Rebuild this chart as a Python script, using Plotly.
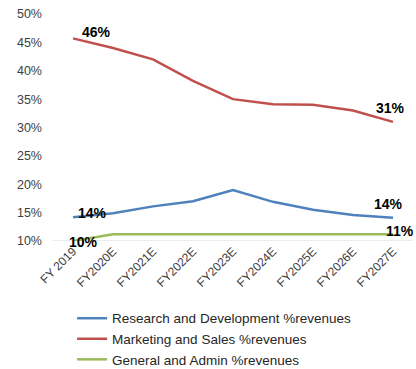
import plotly.graph_objects as go

years = ["FY 2019", "FY2020E", "FY2021E", "FY2022E", "FY2023E",
         "FY2024E", "FY2025E", "FY2026E", "FY2027E"]
rnd = [14.2, 14.9, 16.1, 17.0, 19.0, 16.9, 15.5, 14.6, 14.1]
mkt = [45.7, 44.0, 42.0, 38.2, 35.0, 34.1, 34.0, 33.0, 31.0]
gna = [10.0, 11.2, 11.2, 11.2, 11.2, 11.2, 11.2, 11.2, 11.2]

series = [
    ("Research and Development %revenues", rnd, "#4F81BD"),
    ("Marketing and Sales %revenues", mkt, "#C0504D"),
    ("General and Admin %revenues", gna, "#9BBB59"),
]

fig = go.Figure()
for name, vals, color in series:
    fig.add_trace(go.Scatter(
        x=years, y=vals, name=name, mode="lines",
        line=dict(color=color, width=2.5),
        cliponaxis=False,
    ))

# value callouts at the first and last points: (values, index, xshift, yshift)
callouts = [
    (mkt, 0, 23, 6),
    (mkt, 8, -3, 14),
    (rnd, 0, 19, 4),
    (rnd, 8, -5, 14),
    (gna, 0, 10, -1),
    (gna, 8, 7, 3),
]
for vals, i, dx, dy in callouts:
    fig.add_annotation(
        x=years[i], y=vals[i], text=f"<b>{round(vals[i])}%</b>",
        showarrow=False, xshift=dx, yshift=dy,
        font=dict(family="Liberation Sans", size=14, color="#000000"),
    )

fig.update_layout(
    width=416, height=369,
    margin=dict(l=53, r=3, t=14, b=128, autoexpand=False),
    paper_bgcolor="white", plot_bgcolor="white",
    font=dict(family="Liberation Sans", size=12, color="#404040"),
    showlegend=True,
    legend=dict(
        orientation="v", x=0.053, xanchor="left",
        yref="container", y=0.179, yanchor="top",
        font=dict(size=13.5, color="#262626"),
        tracegroupgap=0, itemwidth=30,
    ),
    xaxis=dict(
        type="category", range=[-0.5, 8.5], tickangle=-45,
        showgrid=False, showline=False, ticks="", automargin=False,
        tickfont=dict(size=12, color="#404040"),
    ),
    yaxis=dict(
        range=[10, 50], dtick=5, ticksuffix="%", automargin=False,
        showgrid=False, zeroline=False, showline=False, ticks="",
        ticklabelstandoff=10,
        tickfont=dict(size=12.5, color="#404040"),
    ),
)
fig.add_hline(y=10, line=dict(color="#D9D9D9", width=1), layer="below")

fig.write_html("out.html")
